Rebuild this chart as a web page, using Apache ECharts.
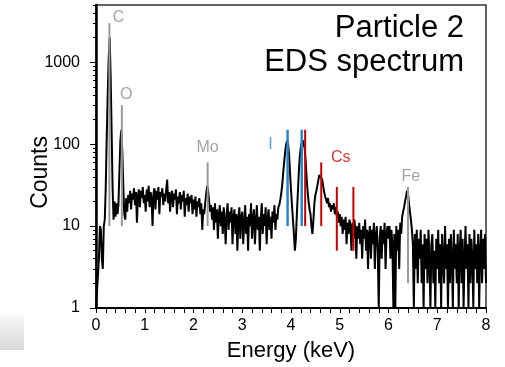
<!DOCTYPE html>
<html>
<head>
<meta charset="utf-8">
<script src="https://cdn.jsdelivr.net/npm/echarts@6/dist/echarts.min.js"></script>
<style>
html, body { margin: 0; padding: 0; background: #fff; }
#main { width: 505px; height: 367px; }
</style>
</head>
<body>
<div id="main"></div>
<script>
// EDS spectrum, one channel every 0.02 keV from 0 to 8 keV
var stepKeV = 0.02;
var counts = [
  1, 1, 1, 4, 10, 9, 4, 3, 10, 12,
  30, 120, 400, 1100, 2000, 700, 150, 30, 12, 20,
  13, 19, 14, 18, 45, 110, 150, 80, 30, 14,
  12, 22, 15, 24, 19, 27, 16, 25, 21, 29,
  18, 26, 11, 23, 28, 17, 27, 22, 30, 19,
  24, 15, 28, 20, 31, 17, 26, 22, 10, 25,
  29, 16, 27, 21, 30, 14, 26, 23, 29, 18,
  25, 20, 28, 37, 19, 26, 15, 24, 27, 17,
  25, 21, 28, 14, 23, 19, 26, 16, 24, 20,
  27, 13, 22, 18, 25, 15, 23, 19, 24, 14,
  21, 16, 23, 13, 20, 17, 22, 14, 19, 9,
  16, 14, 19, 25, 31, 27, 20, 15, 18, 12,
  17, 9, 19, 11, 16, 7, 14, 18, 10, 15,
  8, 17, 12, 6, 14, 19, 9, 15, 11, 17,
  6, 13, 16, 8, 14, 5, 12, 17, 7, 13,
  15, 6, 11, 18, 8, 13, 5, 14, 10, 19,
  7, 12, 16, 6, 11, 18, 9, 13, 5, 12,
  19, 8, 14, 10, 17, 6, 12, 16, 9, 13,
  7, 15, 11, 18, 9, 14, 12, 17, 18, 21,
  25, 32, 45, 60, 80, 100, 110, 100, 75, 45,
  28, 18, 12, 8, 5, 7, 14, 25, 45, 70,
  90, 105, 112, 110, 90, 62, 40, 27, 20, 16,
  14, 10, 8, 12, 19, 24, 27, 31, 36, 42,
  44, 42, 37, 31, 26, 23, 21, 19, 22, 17,
  19, 15, 18, 16, 19, 14, 17, 13, 15, 11,
  14, 10, 13, 8, 12, 9, 13, 6, 11, 8,
  12, 10, 5, 11, 7, 12, 9, 4, 10, 7,
  11, 6, 9, 4, 10, 7, 12, 5, 9, 3,
  8, 10, 4, 9, 6, 11, 3, 8, 10, 5,
  1, 7, 10, 4, 9, 6, 11, 3, 8, 10,
  7, 10, 4, 9, 6, 1, 8, 1, 10, 5,
  9, 3, 11, 8, 13, 15, 17, 20, 23, 27,
  25, 19, 15, 12, 9, 6, 1, 8, 3, 9,
  2, 7, 4, 9, 2, 6, 1, 8, 3, 7,
  2, 9, 4, 1, 6, 8, 2, 5, 1, 7,
  3, 9, 2, 6, 1, 8, 4, 2, 10, 3,
  6, 1, 7, 2, 8, 4, 1, 9, 3, 6,
  2, 8, 1, 5, 9, 2, 7, 1, 4, 10,
  3, 6, 1, 8, 2, 7, 4, 1, 9, 3,
  6, 2, 8, 1, 5, 9, 2, 7, 3, 8,
  2
];

// element lines: [energy keV, bottom count, top count]
var otherLines = [[0.275, 10, 3000], [0.53, 10, 300], [2.29, 10, 60], [6.40, 2, 30]];
var iodineLines = [[3.93, 10, 150], [4.22, 10, 150]];
var cesiumLines = [[4.29, 10, 150], [4.62, 10, 60], [4.94, 5, 30], [5.28, 5, 30]];

// element names: [energy keV, count, text]
var otherNames = [[0.46, 3500, 'C'], [0.62, 400, 'O'], [2.29, 90, 'Mo'], [6.46, 40, 'Fe']];
var iodineNames = [[3.58, 100, 'I']];
var cesiumNames = [[5.02, 68, 'Cs']];

var majorY = [1, 10, 100, 1000];
var minorY = [2, 3, 4, 5, 6, 7, 8, 9, 20, 30, 40, 50, 60, 70, 80, 90,
              200, 300, 400, 500, 600, 700, 800, 900, 2000, 3000, 4000, 5000];

var spectrum = counts.map(function (c, i) {
    return [+(i * stepKeV).toFixed(2), c];
});

var FONT = '"Liberation Sans", Arial, sans-serif';

function lineSeries(list, color, width) {
    return list.map(function (l) {
        return {
            type: 'line',
            data: [[l[0], l[1]], [l[0], l[2]]],
            symbol: 'none',
            z: 4,
            silent: true,
            lineStyle: { color: color, width: width }
        };
    });
}

function nameSeries(list, color) {
    return {
        type: 'scatter',
        data: list,
        symbolSize: 0,
        z: 5,
        silent: true,
        label: {
            show: true,
            position: 'inside',
            formatter: function (p) { return p.data[2]; },
            color: color,
            fontSize: 16,
            fontFamily: FONT
        }
    };
}

var myChart = echarts.init(document.getElementById('main'));

var option = {
    animation: false,
    backgroundColor: '#fff',
    grid: {
        left: 96, right: 19, top: 5, bottom: 56,
        show: true,
        borderColor: '#333',
        borderWidth: 1.5
    },
    xAxis: {
        type: 'value',
        min: 0, max: 8, interval: 1,
        name: 'Energy (keV)',
        nameLocation: 'middle',
        nameGap: 32,
        nameTextStyle: { fontFamily: FONT, fontSize: 22, color: '#000' },
        axisLine: { lineStyle: { color: '#000', width: 2 } },
        axisTick: { length: 5, lineStyle: { color: '#000', width: 1 } },
        minorTick: { show: true, splitNumber: 5, length: 5, lineStyle: { color: '#000', width: 1 } },
        axisLabel: { fontFamily: FONT, fontSize: 16, color: '#000', margin: 10 },
        splitLine: { show: false }
    },
    yAxis: [{
        type: 'log',
        logBase: 10,
        min: 1, max: 5000,
        axisLine: { show: true, lineStyle: { color: '#000', width: 2.5 } },
        axisTick: { show: true, length: 6, customValues: majorY, lineStyle: { color: '#000', width: 1 } },
        axisLabel: {
            customValues: majorY,
            formatter: function (v) { return String(v); },
            fontFamily: FONT, fontSize: 16, color: '#000', margin: 16
        },
        splitLine: { show: false }
    }, {
        type: 'log',
        logBase: 10,
        min: 1, max: 5000,
        position: 'left',
        axisLine: { show: false },
        axisTick: { show: true, length: 3, customValues: minorY, lineStyle: { color: '#000', width: 1 } },
        axisLabel: { show: false },
        splitLine: { show: false }
    }],
    graphic: [{
        type: 'text',
        style: {
            text: 'Particle 2', x: 464, y: 28,
            textAlign: 'right', textVerticalAlign: 'middle',
            font: '31px ' + FONT, fill: '#000'
        }
    }, {
        type: 'text',
        style: {
            text: 'EDS spectrum', x: 464, y: 62,
            textAlign: 'right', textVerticalAlign: 'middle',
            font: '31px ' + FONT, fill: '#000'
        }
    }, {
        type: 'text',
        left: 29,
        top: 136,
        rotation: Math.PI / 2,
        style: { text: 'Counts', font: '23px ' + FONT, fill: '#000' }
    }, {
        type: 'rect',
        left: 0,
        top: 315,
        shape: { width: 24, height: 35 },
        style: {
            fill: new echarts.graphic.LinearGradient(0, 0, 0, 1, [
                { offset: 0, color: '#f8f8f8' },
                { offset: 1, color: '#d8d8d8' }
            ])
        }
    }],
    series: [{
        type: 'line',
        data: spectrum,
        symbol: 'none',
        z: 3,
        lineStyle: { color: '#000', width: 2 }
    }]
        .concat(lineSeries(otherLines, '#999', 2))
        .concat(lineSeries(iodineLines, '#2585d0', 2.5))
        .concat(lineSeries(cesiumLines, '#cc0000', 2))
        .concat([
            nameSeries(otherNames, '#8c8c8c'),
            nameSeries(iodineNames, '#2585d0'),
            nameSeries(cesiumNames, '#cc0000')
        ])
};

myChart.setOption(option);
</script>
</body>
</html>
